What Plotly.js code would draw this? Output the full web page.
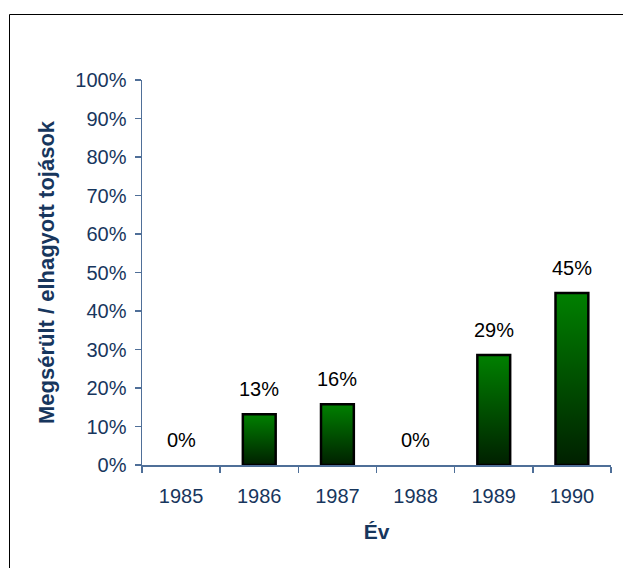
<!DOCTYPE html>
<html>
<head>
<meta charset="utf-8">
<script src="https://cdn.plot.ly/plotly-3.0.1.min.js"></script>
<style>html,body{margin:0;padding:0;background:#fff;}#chart{width:623px;height:568px;}</style>
</head>
<body>
<div id="chart"></div>
<script>
const years = ['1985','1986','1987','1988','1989','1990'];
const values = [0, 0.132, 0.158, 0, 0.286, 0.447];
const yTickVals = [0,0.1,0.2,0.3,0.4,0.5,0.6,0.7,0.8,0.9,1.0];

const navy = '#17365D';
const axisLine = '#4F6F98';
const barW = 0.42;
const idx = years.map((_, i) => i);

const traces = [];
idx.forEach(i => {
  const v = values[i];
  if (v <= 0) return;
  traces.push({
    type: 'scatter', mode: 'lines', fill: 'toself',
    x: [i - barW/2, i + barW/2, i + barW/2, i - barW/2, i - barW/2],
    y: [0, 0, v, v, 0],
    line: {color: '#000000', width: 2.5},
    fillgradient: {type: 'vertical', colorscale: [[0, '#002000'], [1, '#008000']]},
    hoverinfo: 'skip', showlegend: false
  });
});

const annotations = idx.map(i => ({
  x: i, y: values[i], xref: 'x', yref: 'y',
  text: Math.round(values[i]*100) + '%',
  showarrow: false, yanchor: 'bottom', yshift: 12,
  font: {family: 'Liberation Sans, Arial, sans-serif', size: 20, color: '#000000'}
}));

const pw = 469, ph = 385;
const shapes = [{
  type: 'rect', xref: 'paper', yref: 'paper',
  x0: (9.5 - 142) / pw, x1: (640 - 142) / pw,
  y0: (465 - 600) / ph, y1: (465 - 14.5) / ph,
  line: {color: '#000000', width: 1}, fillcolor: 'rgba(0,0,0,0)', layer: 'below'
}];

const layout = {
  width: 623, height: 568,
  margin: {l: 142, r: 12, t: 80, b: 103},
  paper_bgcolor: '#ffffff', plot_bgcolor: '#ffffff',
  font: {family: 'Liberation Sans, Arial, sans-serif', color: navy, size: 20},
  showlegend: false,
  xaxis: {
    range: [-0.5, 5.5], tickmode: 'array', tickvals: idx, ticktext: years,
    ticks: '', showgrid: false, zeroline: false, showline: true,
    linecolor: axisLine, linewidth: 1.5, fixedrange: true,
    ticklabelstandoff: 12,
    tickfont: {size: 20, color: navy},
    minor: {tickmode: 'array', tickvals: [-0.5,0.5,1.5,2.5,3.5,4.5,5.5], ticks: 'outside', ticklen: 6, tickcolor: axisLine, tickwidth: 1.5, showgrid: false},
    title: {text: '<b>Év</b>', font: {size: 21, color: navy}, standoff: 19}
  },
  yaxis: {
    range: [0, 1], tickmode: 'array', tickvals: yTickVals, tickformat: '.0%',
    ticks: 'outside', ticklen: 6, tickcolor: axisLine, tickwidth: 1.5,
    showgrid: false, zeroline: false, showline: true,
    linecolor: axisLine, linewidth: 1.5, fixedrange: true,
    ticklabelstandoff: 4,
    tickfont: {size: 20, color: navy},
    title: {text: '<b>Megsérült / elhagyott tojások</b>', font: {size: 22, color: navy}, standoff: 14}
  },
  annotations: annotations,
  shapes: shapes
};

Plotly.newPlot('chart', traces, layout, {displayModeBar: false, staticPlot: true});
</script>
</body>
</html>
